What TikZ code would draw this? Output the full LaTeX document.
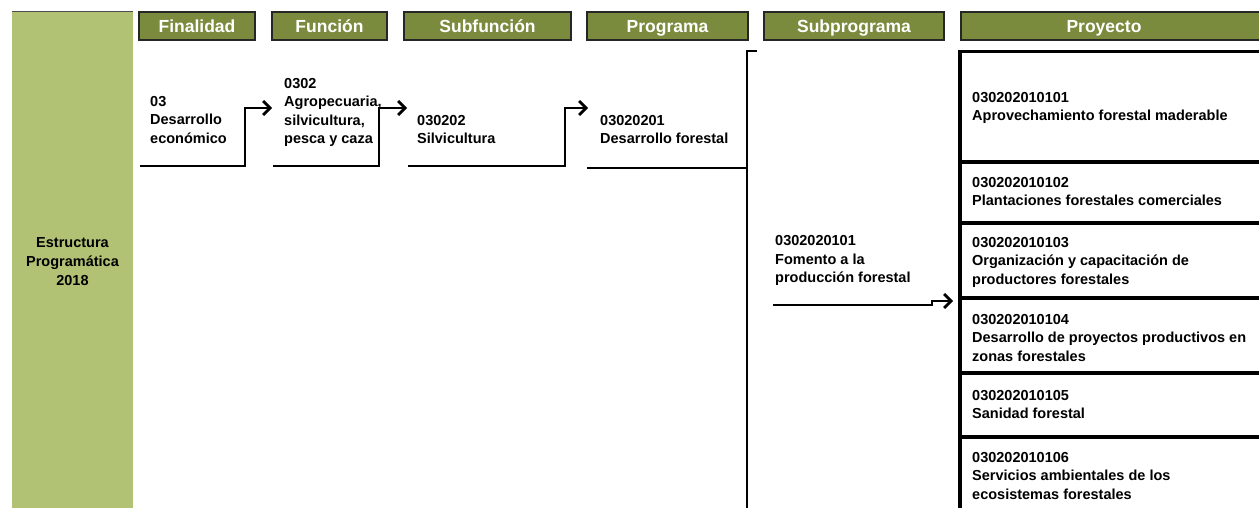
\documentclass[tikz,border=0pt]{standalone}
\usepackage{fontspec}
\setmainfont{Liberation Sans}
\usetikzlibrary{arrows.meta}
\definecolor{sidegreen}{HTML}{B1C274}
\definecolor{headolive}{HTML}{7B8B3D}
\begin{document}
\begin{tikzpicture}[x=1pt,y=-1pt,
  head/.style={draw=black!85,line width=1.5pt,fill=headolive,minimum height=28pt,inner sep=0pt,text=white,text height=14.5pt,text depth=1.5pt,font=\fontsize{17.5}{20}\selectfont\bfseries},
  blk/.style={anchor=north west,align=left,inner sep=0pt,font=\fontsize{14.5}{18.5}\selectfont\bfseries},
  plain/.style={line width=2.8pt},
  link/.style={line width=2.8pt,-{Straight Barb[length=7pt,width=14pt]}},
  rowbox/.style={draw,line width=3.5pt}]
\clip (0,0) rectangle (1259,508);

\node[fill=sidegreen,minimum width=121pt,minimum height=500pt,inner sep=0pt,align=center,font=\fontsize{14.5}{19}\selectfont\bfseries] (est) at (72.5,262) {Estructura\\Programática\\2018};
\draw[black!70,line width=1pt] (est.north west) -- (est.north east);

\node[head,minimum width=116pt] (hfin) at (197,26) {Finalidad};
\node[head,minimum width=115pt] (hfun) at (329.5,26) {Función};
\node[head,minimum width=167pt] (hsub) at (487.5,26) {Subfunción};
\node[head,minimum width=161pt] (hprog) at (667.5,26) {Programa};
\node[head,minimum width=180pt] (hsubp) at (854,26) {Subprograma};
\node[head,minimum width=330pt,anchor=west] (hproy) at (960,26) {};
\node[head,draw=none,fill=none] (tproy) at (1104,26) {Proyecto};

\node[blk] (fin) at (150,96) {03\\Desarrollo\\económico};
\node[blk] (fun) at (284,77.7) {0302\\Agropecuaria,\\silvicultura,\\pesca y caza};
\node[blk] (sub) at (417,114.7) {030202\\Silvicultura};
\node[blk] (prog) at (600,114.7) {03020201\\Desarrollo forestal};
\node[blk] (subp) at (775,235.2) {0302020101\\Fomento a la\\producción forestal};

\foreach \t/\b in {51.5/162,162/223,223/298,298/373,373/437,437/520}
  \draw[rowbox] (960,\t) rectangle (1280,\b);

\node[blk] (p1) at (972,92) {030202010101\\Aprovechamiento forestal maderable};
\node[blk] (p2) at (972,177) {030202010102\\Plantaciones forestales comerciales};
\node[blk] (p3) at (972,237) {030202010103\\Organización y capacitación de\\productores forestales};
\node[blk] (p4) at (972,314) {030202010104\\Desarrollo de proyectos productivos en\\zonas forestales};
\node[blk] (p5) at (972,390) {030202010105\\Sanidad forestal};
\node[blk] (p6) at (972,452) {030202010106\\Servicios ambientales de los\\ecosistemas forestales};

\coordinate (fin-out) at (140,166);
\coordinate (fun-in) at (272,108);
\coordinate (fun-out) at (273,166);
\coordinate (sub-in) at (407,108);
\coordinate (sub-out) at (408,166);
\coordinate (prog-in) at (588,108);
\coordinate (prog-out) at (587,168);
\coordinate (bar-top) at (747,51);
\coordinate (subp-out) at (773,305);
\coordinate (proy-in) at (953,301);

\draw[link] (fin-out) -- ++(105,0) |- (fun-in);
\draw[link] (fun-out) -- ++(106,0) |- (sub-in);
\draw[link] (sub-out) -- ++(157,0) |- (prog-in);
\draw[plain] (prog-out) -- (bar-top |- prog-out);
\draw[plain] ([xshift=10pt]bar-top) -- (bar-top) -- ++(0,470);
\draw[link] (subp-out) -- ++(159,0) |- (proy-in);
\end{tikzpicture}
\end{document}
